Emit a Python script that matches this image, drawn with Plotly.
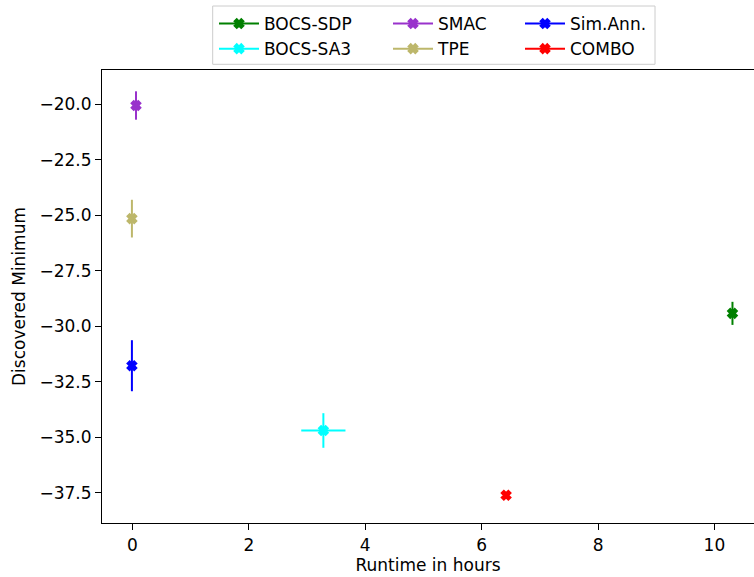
import plotly.graph_objects as go

# Optimizer results: runtime (hours) vs. discovered minimum, with error bars
methods = ["BOCS-SDP", "BOCS-SA3", "SMAC", "TPE", "Sim.Ann.", "COMBO"]
runtime_hours = [10.31, 3.28, 0.06, -0.01, -0.01, 6.42]
runtime_err = [0.0, 0.38, 0.0, 0.0, 0.0, 0.0]
discovered_min = [-29.42, -34.70, -20.05, -25.15, -31.78, -37.62]
discovered_err = [0.52, 0.78, 0.64, 0.85, 1.15, 0.10]
colors = ["#008000", "#00FFFF", "#9932CC", "#BDB76B", "#0000FF", "#FF0000"]

x_ticks = [0, 2, 4, 6, 8, 10]
y_ticks = [-20.0, -22.5, -25.0, -27.5, -30.0, -32.5, -35.0, -37.5]

# legend column for each method (three columns of two entries)
legend_of = {"BOCS-SDP": "legend", "BOCS-SA3": "legend",
             "SMAC": "legend2", "TPE": "legend2",
             "Sim.Ann.": "legend3", "COMBO": "legend3"}

FONT = "DejaVu Sans"
FS = 17

fig = go.Figure()
for name, x, xe, y, ye, c in zip(methods, runtime_hours, runtime_err,
                                 discovered_min, discovered_err, colors):
    fig.add_trace(go.Scatter(
        x=[x], y=[y], name=name, mode="markers+lines",
        line=dict(color=c, width=2),
        marker=dict(symbol="x", size=8, color=c, line=dict(width=1.8, color=c)),
        error_y=dict(type="data", array=[ye], color=c, thickness=2, width=0,
                     visible=True),
        error_x=dict(type="data", array=[xe], color=c, thickness=2, width=0,
                     visible=xe > 0),
        legend=legend_of[name],
    ))

L, R, T, B = 102, 0, 70, 54
W, H = 754, 577
pw, ph = W - L - R, H - T - B


def px_x(p):
    return (p - L) / pw


def px_y(p):
    return 1 + (T - p) / ph


legend_common = dict(
    orientation="v", bgcolor="rgba(0,0,0,0)", borderwidth=0,
    font=dict(family=FONT, size=FS, color="#000000"),
    itemwidth=40, tracegroupgap=0, yanchor="top", xanchor="left",
    itemclick=False, itemdoubleclick=False,
)
ly = px_y(6)

fig.update_layout(
    width=W, height=H,
    margin=dict(l=L, r=R, t=T, b=B, pad=0),
    paper_bgcolor="white", plot_bgcolor="white",
    font=dict(family=FONT, size=FS, color="#000000"),
    legend=dict(x=px_x(214), y=ly, **legend_common),
    legend2=dict(x=px_x(388), y=ly, **legend_common),
    legend3=dict(x=px_x(520), y=ly, **legend_common),
    xaxis=dict(
        range=[-0.524, 10.68], tickvals=x_ticks,
        ticktext=[str(v) for v in x_ticks],
        showgrid=False, zeroline=False,
        showline=True, linecolor="black", linewidth=1.2, mirror=True,
        ticks="outside", ticklen=6, tickwidth=1.2, tickcolor="black",
        tickfont=dict(family=FONT, size=FS, color="#000000"),
        title=dict(text="Runtime in hours", standoff=5,
                   font=dict(family=FONT, size=FS, color="#000000")),
    ),
    yaxis=dict(
        range=[-38.87, -18.45], tickvals=y_ticks,
        ticktext=["\u2212%.1f" % abs(v) for v in y_ticks],
        showgrid=False, zeroline=False,
        showline=True, linecolor="black", linewidth=1.2, mirror=False,
        ticks="outside", ticklen=6, tickwidth=1.2, tickcolor="black",
        tickfont=dict(family=FONT, size=FS, color="#000000"),
        title=dict(text="Discovered Minimum", standoff=9,
                   font=dict(family=FONT, size=FS, color="#000000")),
    ),
    shapes=[dict(
        type="rect", xref="paper", yref="paper",
        x0=px_x(212.7), x1=px_x(655), y0=px_y(64.3), y1=px_y(6),
        line=dict(color="#cccccc", width=1), fillcolor="rgba(255,255,255,0.8)",
        layer="below",
    )],
)

fig.write_html("out.html")
